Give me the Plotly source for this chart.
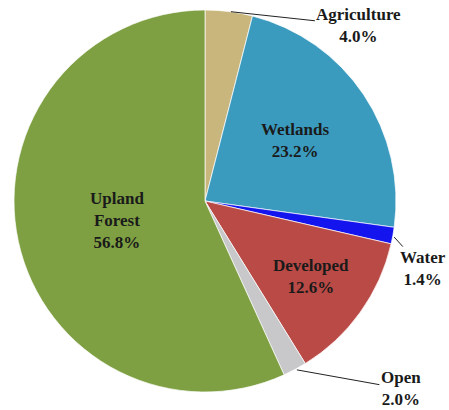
import math
import plotly.graph_objects as go

# ---- data ----
categories = ["Agriculture", "Wetlands", "Water", "Developed", "Open", "Upland Forest"]
values = [4.0, 23.2, 1.4, 12.6, 2.0, 56.8]
label_texts = ["Agriculture<br>4.0%", "Wetlands<br>23.2%", "Water<br>1.4%",
               "Developed<br>12.6%", "Open<br>2.0%", "Upland<br>Forest<br>56.8%"]
colors = ["#C8B67C", "#3B9BBF", "#1414EE", "#BA4A46", "#C8C8CA", "#7EA043"]

# ---- layout/style ----
W, H = 449, 410
cx, cy, r = 205, 201, 191          # pie centre & radius in pixels
dom_x = [(cx - r) / W, (cx + r) / W]
dom_y = [1 - (cy + r) / H, 1 - (cy - r) / H]

# label placement style: ("in", radius fraction) or ("out", ax, ay, edge fraction)
placement = [("out", 130, 14, 1.0), ("in", 0.57), ("out", 30, 33, 1.0),
             ("in", 0.68), ("out", 106, 19, 1.0), ("in", 0.47)]

fig = go.Figure(go.Pie(
    labels=categories, values=values, sort=False, direction="clockwise",
    rotation=0, textinfo="none", hoverinfo="skip",
    marker=dict(colors=colors, line=dict(color="rgba(255,255,255,0.7)", width=1)),
    domain=dict(x=dom_x, y=dom_y), showlegend=False,
))

font = dict(family="Liberation Serif, Times New Roman, serif", size=17, color="#1a1a1a")
total = sum(values)
cum = 0.0
annotations = []
for cat, v, txt, pl in zip(categories, values, label_texts, placement):
    mid = (cum + v / 2) / total * 2 * math.pi
    cum += v
    sx, sy = math.sin(mid), -math.cos(mid)
    if pl[0] == "in":
        px, py = cx + pl[1] * r * sx, cy + pl[1] * r * sy
        annotations.append(dict(x=px / W, y=1 - py / H, xref="paper", yref="paper",
                                text="<b>" + txt + "</b>", showarrow=False, font=font,
                                xanchor="center", yanchor="middle"))
    else:
        px, py = cx + pl[3] * r * sx, cy + pl[3] * r * sy
        annotations.append(dict(x=px / W, y=1 - py / H, xref="paper", yref="paper",
                                text="<b>" + txt + "</b>", showarrow=True, arrowhead=0,
                                arrowwidth=1, arrowcolor="#222", ax=pl[1], ay=pl[2],
                                font=font, standoff=2))

fig.update_layout(width=W, height=H, margin=dict(l=0, r=0, t=0, b=0),
                  paper_bgcolor="white", plot_bgcolor="white",
                  annotations=annotations)
fig.write_html("out.html", config={"displayModeBar": False},
               post_script="document.body.style.margin='0';document.body.style.padding='0';")
